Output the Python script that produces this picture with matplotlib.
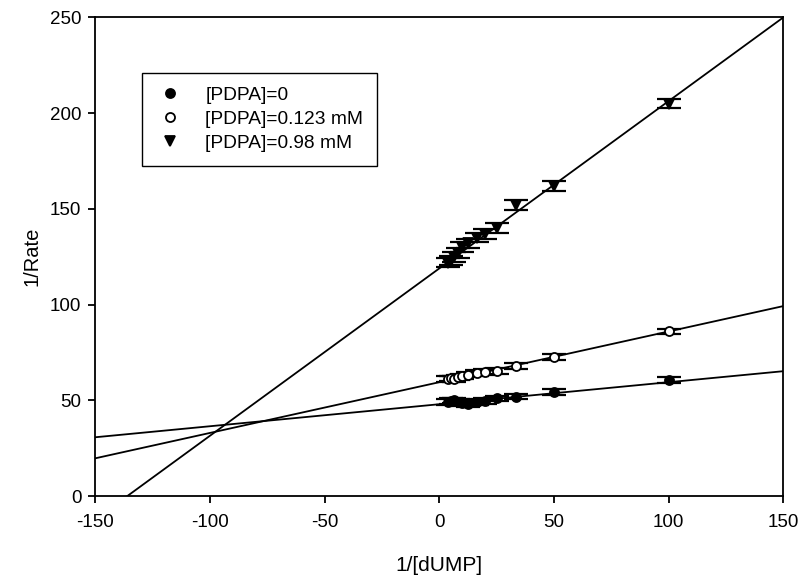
import matplotlib
matplotlib.use('Agg')
import matplotlib.pyplot as plt
import numpy as np

plt.rcParams['font.family'] = ['Liberation Sans', 'DejaVu Sans']
plt.rcParams['axes.unicode_minus'] = False

# 1/[dUMP] values shared by all three series
x_vals = [4, 5, 6.25, 8.33, 10, 12.5, 16.67, 20, 25, 33.33, 50, 100]

# 1/Rate for each inhibitor concentration
y_pdpa0 = [49, 49.5, 50, 49, 48.5, 48, 49, 49.5, 51, 52, 54.5, 60.5]
y_pdpa123 = [61, 61.5, 61, 62, 62.5, 63.5, 64.5, 65, 65.5, 68, 72.5, 86]
y_pdpa98 = [122, 123, 125, 127, 130, 132, 135, 137, 140, 152, 162, 205]

# error bars (1/Rate units)
err_pdpa0 = [1.5] * 12
err_pdpa123 = [1.5] * 12
err_pdpa98 = [2.5] * 12

# fitted Lineweaver-Burk lines
fit_slope = [0.115, 0.265, 0.874]
fit_intercept = [48.0, 59.5, 118.9]

labels = ['[PDPA]=0', '[PDPA]=0.123 mM', '[PDPA]=0.98 mM']
markers = ['o', 'o', 'v']
facecolors = ['black', 'white', 'black']

fig = plt.figure(figsize=(8, 5.83), dpi=100)
ax = fig.add_axes([0.119, 0.149, 0.860, 0.821])

series = [(y_pdpa0, err_pdpa0), (y_pdpa123, err_pdpa123), (y_pdpa98, err_pdpa98)]
x_line = np.linspace(-150, 150, 400)
handles = []
for i, (ys, errs) in enumerate(series):
    ax.plot(x_line, fit_intercept[i] + fit_slope[i] * x_line, color='black', lw=1.3, zorder=2)
    ax.errorbar(x_vals, ys, yerr=errs, fmt='none', ecolor='black', elinewidth=1.4,
                capsize=8.5, capthick=1.6, zorder=3)
    h, = ax.plot(x_vals, ys, linestyle='none', marker=markers[i],
                 markersize=7.5 if markers[i] == 'v' else 6.5,
                 markerfacecolor=facecolors[i], markeredgecolor='black', markeredgewidth=1.3,
                 label=labels[i], zorder=4)
    handles.append(h)

ax.set_xlim(-150, 150)
ax.set_ylim(0, 250)
ax.set_xticks([-150, -100, -50, 0, 50, 100, 150])
ax.set_yticks([0, 50, 100, 150, 200, 250])
ax.tick_params(direction='out', length=5, width=1.3, labelsize=13.5, top=False, right=False)
ax.tick_params(axis='x', pad=8)
ax.tick_params(axis='y', pad=5)
for s in ax.spines.values():
    s.set_linewidth(1.3)

ax.set_xlabel('1/[dUMP]', fontsize=15, labelpad=18)
ax.set_ylabel('1/Rate', fontsize=14.5, labelpad=6)

leg = ax.legend(handles=handles, loc='upper left', bbox_to_anchor=(0.068, 0.884),
                borderaxespad=0, fancybox=False, edgecolor='black', fontsize=13.8,
                handlelength=1.5, handletextpad=1.1, borderpad=0.7, labelspacing=0.35,
                framealpha=1)
leg.get_frame().set_linewidth(1.0)

fig.savefig('out.png', dpi=100)
